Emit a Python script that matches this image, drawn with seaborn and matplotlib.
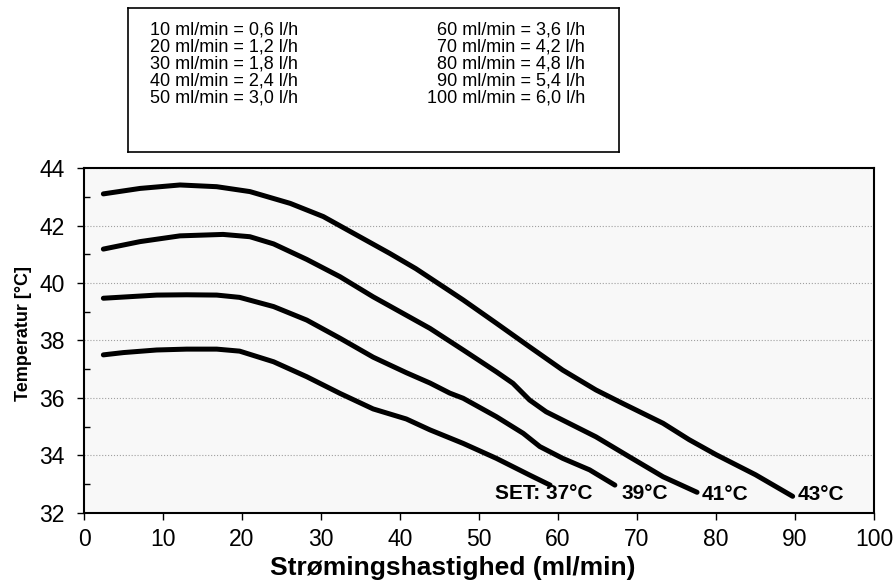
import pandas as pd
import matplotlib.pyplot as plt
import seaborn as sns
from matplotlib.ticker import MultipleLocator

# -----------------------------------------
#  Temperatur vs. strømningshastighed
# -----------------------------------------

# flow (ml/min) and outlet temperature per set point
flow_37 = [2.45, 5, 9.2, 13, 16.8, 19.7, 24, 28.2, 32.4, 36.6, 40.8, 43.8, 48, 52.2, 56.4, 59.0]
temp_37 = [37.50, 37.58, 37.67, 37.70, 37.70, 37.63, 37.26, 36.74, 36.16, 35.62, 35.27, 34.89, 34.42, 33.90, 33.32, 32.97]

flow_39 = [2.45, 9.2, 13, 16.8, 19.7, 24, 28.2, 32.4, 36.6, 40.8, 43.8, 46.3, 48, 52.2, 55.6, 57.7, 60.6, 64, 67.2]
temp_39 = [39.47, 39.58, 39.59, 39.58, 39.50, 39.18, 38.71, 38.08, 37.42, 36.88, 36.52, 36.17, 35.99, 35.35, 34.77, 34.31, 33.90, 33.50, 32.97]

flow_41 = [2.45, 7.1, 12.15, 17.6, 21, 24, 28.2, 32.4, 36.6, 38.7, 43.8, 48, 52.2, 54.3, 56.4, 58.5, 60.6, 64.8, 69, 73.3, 77.6]
temp_41 = [41.18, 41.44, 41.64, 41.69, 41.61, 41.36, 40.82, 40.22, 39.52, 39.20, 38.42, 37.67, 36.91, 36.51, 35.93, 35.52, 35.23, 34.65, 33.96, 33.26, 32.72]

flow_43 = [2.45, 7.1, 12.15, 16.8, 21, 26.1, 30.3, 34.5, 38.7, 42, 46.3, 48, 52.2, 56.4, 60.6, 64.8, 68.2, 73.3, 76.6, 80, 85, 89.7]
temp_43 = [43.10, 43.29, 43.41, 43.35, 43.18, 42.77, 42.31, 41.67, 41.03, 40.50, 39.72, 39.41, 38.60, 37.78, 36.97, 36.28, 35.81, 35.12, 34.55, 34.03, 33.33, 32.58]

set_points = ["37", "39", "41", "43"]
end_labels = ["SET: 37°C", "39°C", "41°C", "43°C"]
label_x = [52.0, 68.1, 78.2, 90.3]
label_y = [32.69, 32.69, 32.63, 32.63]

conversion_left = ["10 ml/min = 0,6 l/h", "20 ml/min = 1,2 l/h", "30 ml/min = 1,8 l/h",
                   "40 ml/min = 2,4 l/h", "50 ml/min = 3,0 l/h"]
conversion_right = ["60 ml/min = 3,6 l/h", "70 ml/min = 4,2 l/h", "80 ml/min = 4,8 l/h",
                    "90 ml/min = 5,4 l/h", "100 ml/min = 6,0 l/h"]

frames = []
for sp, fx, ty in zip(set_points, [flow_37, flow_39, flow_41, flow_43],
                      [temp_37, temp_39, temp_41, temp_43]):
    frames.append(pd.DataFrame({"flow": fx, "temp": ty, "set": sp}))
df = pd.concat(frames, ignore_index=True)

sns.set_style("ticks")
plt.rcParams["font.family"] = ["Liberation Sans", "DejaVu Sans"]
plt.rcParams["text.color"] = "black"
plt.rcParams["axes.labelcolor"] = "black"
plt.rcParams["xtick.color"] = "black"
plt.rcParams["ytick.color"] = "black"

fig = plt.figure(figsize=(8.96, 5.85), dpi=100)
ax = fig.add_axes([0.09375, 0.1231, 0.8817, 0.5897])

sns.lineplot(data=df, x="flow", y="temp", units="set", estimator=None,
             color="black", linewidth=3.6, solid_capstyle="round",
             solid_joinstyle="round", sort=False, ax=ax, legend=False)

ax.set_facecolor("#f8f8f8")
ax.set_xlim(0, 100)
ax.set_ylim(32, 44)
ax.xaxis.set_major_locator(MultipleLocator(10))
ax.yaxis.set_major_locator(MultipleLocator(2))
ax.yaxis.set_minor_locator(MultipleLocator(1))
ax.tick_params(axis="both", which="major", direction="out", length=5,
               width=1, labelsize=16.5)
ax.tick_params(axis="x", which="major", pad=6)
ax.tick_params(axis="y", which="major", pad=9)
ax.tick_params(axis="y", which="minor", direction="in", length=4, width=1)
for side in ax.spines.values():
    side.set_linewidth(1.5)
    side.set_color("black")
ax.grid(axis="y", which="major", color="#a0a0a0", linestyle=":", linewidth=0.8)

ax.set_xlabel("Strømingshastighed (ml/min)", fontsize=19, fontweight="bold")
ax.xaxis.set_label_coords(0.467, -0.125)
ax.set_ylabel("Temperatur [°C]", fontsize=13, fontweight="bold")
ax.yaxis.set_label_coords(-0.066, 0.519)

for txt, lx, ly in zip(end_labels, label_x, label_y):
    ax.text(lx, ly, txt, fontsize=15, fontweight="bold", ha="left", va="center")

# conversion box above the plot
box = fig.add_axes([0.1429, 0.740, 0.548, 0.2462])
box.set_xticks([])
box.set_yticks([])
for side in box.spines.values():
    side.set_linewidth(1.2)
    side.set_color("black")
row_y = [30, 46.7, 64, 81, 97.7]
for ry, lt, rt in zip(row_y, conversion_left, conversion_right):
    fig.text(150 / 896, 1 - ry / 585, lt, fontsize=13, ha="left", va="center")
    fig.text(585 / 896, 1 - ry / 585, rt, fontsize=13, ha="right", va="center")

fig.savefig("out.png", dpi=100)
